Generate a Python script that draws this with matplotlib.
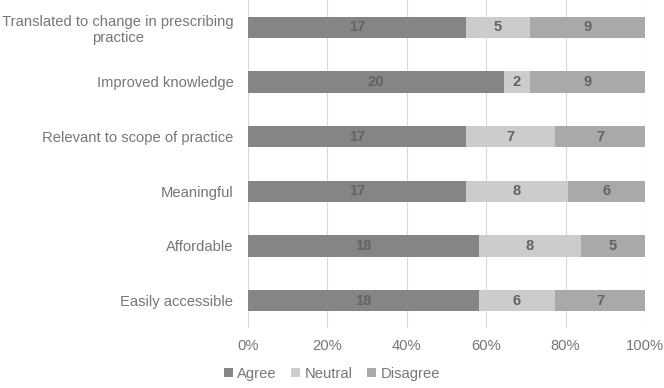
import matplotlib.pyplot as plt
import numpy as np

plt.rcParams['font.family'] = ['Liberation Sans', 'DejaVu Sans']

# data
categories = ['Translated to change in prescribing\npractice', 'Improved knowledge',
              'Relevant to scope of practice', 'Meaningful', 'Affordable', 'Easily accessible']
agree = [17, 20, 17, 17, 18, 18]
neutral = [5, 2, 7, 8, 8, 6]
disagree = [9, 9, 7, 6, 5, 7]

series = [('Agree', agree, '#858585'), ('Neutral', neutral, '#cccccc'), ('Disagree', disagree, '#a9a9a9')]

fig = plt.figure(figsize=(6.64, 3.88), dpi=100)
ax = fig.add_axes([0.3735, 0.155, 0.598, 0.845])

totals = np.array(agree) + np.array(neutral) + np.array(disagree)
y = np.arange(len(categories))[::-1]
left = np.zeros(len(categories))
for name, vals, col in series:
    frac = np.array(vals) / totals
    ax.barh(y, frac, left=left, height=0.39, color=col, label=name, zorder=3)
    for yi, l, f, v in zip(y, left, frac, vals):
        ax.text(l + f / 2, yi, str(v), ha='center', va='center', color='#636363',
                fontsize=10.6, fontweight='bold', zorder=4)
    left += frac

ax.set_xlim(0, 1)
ax.set_ylim(-0.5, len(categories) - 0.5)
ax.set_xticks(np.arange(0, 1.01, 0.2))
ax.set_xticklabels(['0%', '20%', '40%', '60%', '80%', '100%'])
ax.set_yticks(y)
ax.set_yticklabels(categories, ha='right', multialignment='center')
ax.tick_params(axis='y', pad=10.5)
ax.tick_params(colors='#767676', labelsize=10.6, length=0)
ax.tick_params(axis='x', pad=8)
ax.grid(axis='x', color='#d9d9d9', linewidth=0.8, zorder=0)
for s in ax.spines.values():
    s.set_visible(False)
ax.axvline(0, color='#d9d9d9', linewidth=0.8, zorder=1)

fig.legend(loc='lower center', bbox_to_anchor=(0.5, -0.015), ncol=3, frameon=False,
           fontsize=10.6, labelcolor='#767676', handlelength=0.6, handleheight=0.6,
           handletextpad=0.3, columnspacing=1.0)

plt.savefig('out.png', dpi=100)
